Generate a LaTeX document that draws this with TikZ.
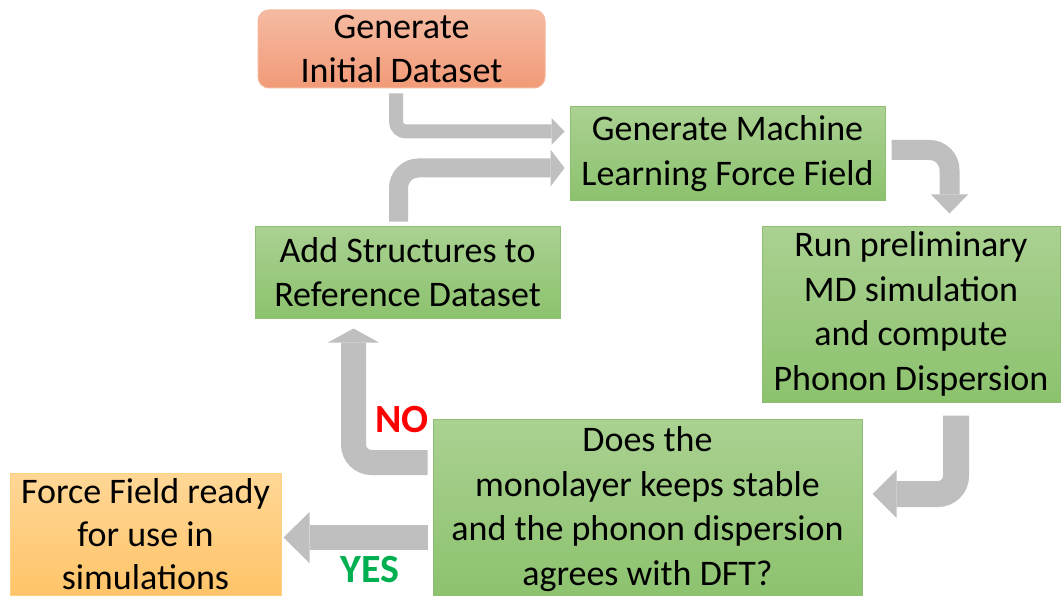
\documentclass[tikz,border=0pt]{standalone}
\usepackage{fontspec}
\setmainfont{Carlito}
\usetikzlibrary{arrows.meta}
\definecolor{arrgray}{HTML}{BFBFBF}
\definecolor{salmonTop}{HTML}{F5BBA2}
\definecolor{salmonBot}{HTML}{F29A77}
\definecolor{salmonLine}{HTML}{F4B79E}
\definecolor{greenTop}{HTML}{AAD191}
\definecolor{greenBot}{HTML}{8CC26E}
\definecolor{greenLine}{HTML}{8DBE72}
\definecolor{orangeTop}{HTML}{FFD796}
\definecolor{orangeBot}{HTML}{FFC469}
\definecolor{orangeLine}{HTML}{FFD27F}
\definecolor{noRed}{HTML}{FF0000}
\definecolor{yesGreen}{HTML}{00B050}
\tikzset{
  boxtext/.style={align=center, font=\fontsize{36}{44.5}\selectfont, inner sep=0pt},
  greenbox/.style={boxtext, draw=greenLine, line width=1pt, top color=greenTop, bottom color=greenBot},
  salmonbox/.style={boxtext, draw=salmonLine, line width=1pt, top color=salmonTop, bottom color=salmonBot, rounded corners=11pt},
  orangebox/.style={boxtext, draw=orangeLine, line width=1pt, top color=orangeTop, bottom color=orangeBot},
  blk/.style n args={4}{draw=arrgray, line width=#1, rounded corners=#4,
     -{Triangle[length=#2, width=#3, line width=0pt]}},
  lbl/.style={font=\fontsize{40}{44}\selectfont\bfseries, inner sep=0pt}
}
\begin{document}
\begin{tikzpicture}[x=1pt,y=-1pt]
\clip (0,0) rectangle (1062,596);
\fill[white] (0,0) rectangle (1062,596);
\node[salmonbox, minimum width=287pt, minimum height=78pt] (init) at (401.5,49) {Generate\\Initial Dataset};
\node[greenbox, minimum width=315pt, minimum height=93pt] (ml) at (727.5,153.5) {Generate Machine\\Learning Force Field};
\node[greenbox, minimum width=298pt, minimum height=176pt] (run) at (911,314) {Run preliminary\\MD simulation\\and compute\\Phonon Dispersion};
\node[greenbox, minimum width=429pt, minimum height=180pt] (dec) at (647.5,509) {Does the\\monolayer keeps stable\\and the phonon dispersion\\agrees with DFT?};
\node[greenbox, minimum width=305pt, minimum height=92pt] (add) at (407.5,272) {Add Structures to\\Reference Dataset};
\node[orangebox, minimum width=271pt, minimum height=122pt, font=\fontsize{36}{43}\selectfont] (force) at (145.5,534.5) {Force Field ready\\for use in\\simulations};
% block arrows
\draw[blk={14pt}{13pt}{27pt}{10pt}] ([xshift=-5.5pt,yshift=-5pt]init.south) |- ([xshift=-5pt,yshift=22pt]ml.west);
\draw[blk={19pt}{14pt}{37pt}{20pt}] ([xshift=-9pt,yshift=4pt]add.north) |- ([xshift=-5pt,yshift=-14.5pt]ml.west);
\draw[blk={20pt}{19pt}{37pt}{20pt}] ([xshift=6pt,yshift=3.5pt]ml.east) -| ([xshift=38.5pt,yshift=12pt]run.north);
\draw[blk={26pt}{24pt}{48pt}{18pt}] ([xshift=45pt,yshift=-13pt]run.south) |- ([xshift=10pt,yshift=15pt]dec.east);
\draw[blk={25pt}{14pt}{51pt}{18pt}] ([xshift=-5pt,yshift=46.5pt]dec.west) -| ([xshift=-54pt,yshift=-10pt]add.south);
\draw[blk={25pt}{26pt}{51pt}{0pt}] ([xshift=-5pt,yshift=-28.5pt]dec.west) -- ([xshift=2pt,yshift=-3pt]force.east);
% labels
\node[lbl, text=noRed] (no) at (402,420) {NO};
\node[lbl, text=yesGreen] (yes) at (370,570) {YES};
\end{tikzpicture}
\end{document}
